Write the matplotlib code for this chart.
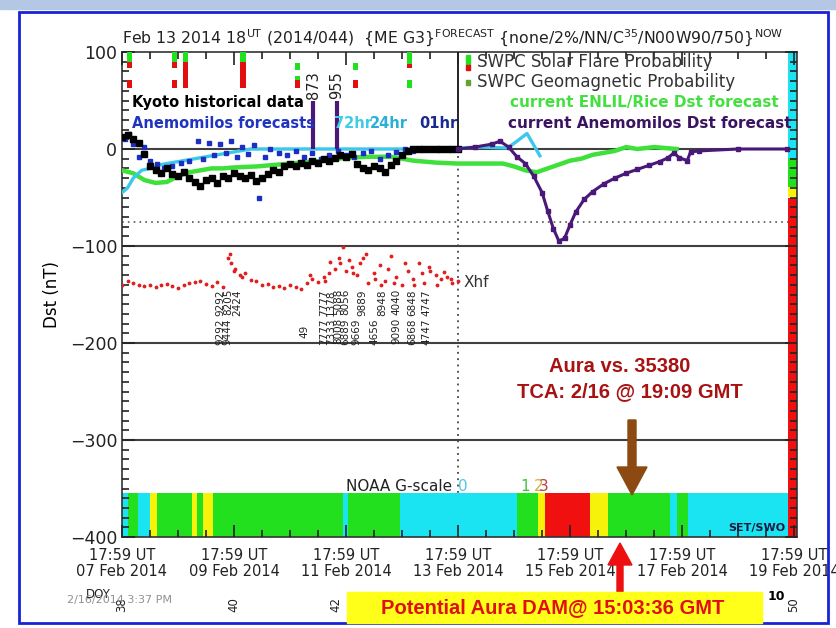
import numpy as np
import matplotlib.pyplot as plt
from matplotlib.patches import Rectangle, FancyArrow

W, H = 837, 628

# time axis: days since 07 Feb 2014 17:59 UT
tick_days = [0, 2, 4, 6, 8, 10, 12]
tick_labels = ["17:59 UT\n07 Feb 2014", "17:59 UT\n09 Feb 2014", "17:59 UT\n11 Feb 2014",
               "17:59 UT\n13 Feb 2014", "17:59 UT\n15 Feb 2014", "17:59 UT\n17 Feb 2014",
               "17:59 UT\n19 Feb 2014"]
doy_labels = ["38", "40", "42", "44", "46", "48", "50"]
y_ticks = [100, 0, -100, -200, -300, -400]

# Kyoto historical Dst (black)
kyoto_day = np.arange(0, 6.01, 0.1)
kyoto_dst = [12, 14, 10, 6, -5, -18, -22, -25, -20, -26,
             -28, -24, -30, -34, -38, -32, -30, -35, -28, -30,
             -25, -28, -30, -27, -33, -30, -26, -22, -24, -18,
             -15, -18, -14, -16, -12, -14, -10, -12, -9, -6,
             -8, -5, -15, -20, -22, -18, -20, -24, -16, -12,
             -6, -2, 0, 0, 0, 0, 0, 0, 0, 0, 0]

# Anemomilos forecasts (blue dots)
anem_day = [0.05, 0.12, 0.2, 0.3, 0.4, 0.5, 0.62, 0.75, 0.9, 1.05,
            1.2, 1.35, 1.45, 1.55, 1.65, 1.75, 1.85, 1.95, 2.05, 2.15,
            2.25, 2.35, 2.45, 2.55, 2.65, 2.8, 2.95, 3.1, 3.25, 3.4,
            3.55, 3.7, 3.85, 4.0, 4.15, 4.3, 4.45, 4.6, 4.75, 4.9,
            5.05, 5.2, 5.4, 5.6, 5.8]
anem_dst = [10, 15, 5, -8, 2, -12, -15, -20, -18, -14,
            -12, 8, -10, 6, -6, 5, -4, 8, -8, 2,
            -5, 4, -50, -8, 0, -4, -6, -2, -8, -4,
            -10, -6, -2, -6, -8, -4, -2, -10, -6, -3,
            0, -2, 0, 0, 0]

# 72hr forecast (cyan)
cyan_day = [0.0, 0.1, 0.2, 0.35, 0.5, 0.7, 0.9, 1.1, 1.3, 1.5, 1.7, 1.9, 2.1, 2.3,
            2.6, 3.0, 3.5, 4.0, 4.5, 5.0, 5.5, 6.0, 6.4, 6.88, 7.05, 7.23, 7.34, 7.46]
cyan_dst = [-45, -40, -30, -22, -20, -16, -14, -12, -10, -8, -6, -4, -2, 0,
            0, 0, 0, 0, 0, 0, 0, 1, 2, 1, 8, 16, 5, -7]

# ENLIL/Rice forecast (green)
enlil_day = [0.0, 0.2, 0.4, 0.6, 0.8, 1.0, 1.2, 1.4, 1.6, 1.8, 2.0, 2.4, 2.8, 3.2,
             3.6, 4.0, 4.4, 4.8, 5.2, 5.6, 6.0, 6.4, 6.8, 7.0, 7.2, 7.4, 7.6, 7.8,
             8.0, 8.2, 8.4, 8.6, 8.8, 9.0, 9.2, 9.5, 9.9]
enlil_dst = [-22, -25, -32, -35, -34, -28, -24, -22, -20, -20, -19, -18, -16, -14,
             -12, -9, -8, -8, -12, -14, -15, -15, -15, -18, -22, -24, -20, -16,
             -12, -10, -6, -4, -2, 2, 0, 2, 0]

# current Anemomilos forecast (purple)
purple_day = [6.0, 6.3, 6.6, 6.75, 6.9, 7.05, 7.2, 7.35, 7.5, 7.6, 7.7, 7.8, 7.9,
              8.0, 8.1, 8.25, 8.4, 8.6, 8.8, 9.0, 9.2, 9.4, 9.6, 9.75, 9.85,
              9.95, 10.09, 10.15, 10.3, 11.0, 11.88]
purple_dst = [0, 2, 5, 8, 2, -8, -15, -28, -45, -64, -82, -95, -92,
              -78, -65, -52, -44, -36, -30, -25, -21, -17, -13, -9, -4,
              -9, -12, -3, -2, 0, 0]

# off-scale Anemomilos values
spike_day = [3.41, 3.84]
spike_top = [50, 50]
spike_label = ["873", "955"]

# Xhf (red dots)
xhf_day = np.arange(0, 6.01, 0.1)
xhf_dst = [-140, -136, -138, -140, -141, -140, -142, -140, -139, -141,
           -143, -140, -138, -137, -136, -139, -141, -137, -142, -112,
           -126, -130, -128, -135, -136, -140, -139, -142, -141, -143,
           -140, -142, -144, -138, -134, -137, -132, -128, -124, -118,
           -126, -122, -130, -112, -138, -128, -120, -136, -110, -132,
           -140, -126, -134, -118, -138, -126, -130, -134, -132, -138, -136]
xhf2_day = [1.92, 1.95, 2.02, 2.15, 3.35, 3.62, 3.72, 3.88, 3.95, 4.05, 4.12, 4.25,
            4.35, 4.52, 4.62, 4.75, 4.85, 5.05, 5.22, 5.35, 5.48, 5.62, 5.75, 5.88]
xhf2_dst = [-108, -118, -124, -132, -130, -136, -116, -112, -101, -114, -128, -118,
            -108, -134, -140, -124, -138, -118, -140, -128, -122, -140, -127, -134]

# rotated station numbers under Xhf
num_day_a = [1.75, 1.89, 2.05, 3.6, 3.73, 3.86, 3.99, 4.3, 4.65, 4.9, 5.18, 5.43]
num_txt_a = ["9292", "8205", "2424", "7777", "1378", "5088", "8056", "9889", "8948", "4040", "6848", "4747"]
num_day_b = [1.75, 1.89, 3.25, 3.6, 3.73, 3.86, 3.99, 4.18, 4.5, 4.9, 5.18, 5.43]
num_txt_b = ["9292", "9444", "49", "7777", "7333", "8008", "6889", "9669", "4656", "9090", "6868", "4747"]

# SWPC probability bars
swpc_day = [0.14, 0.93, 1.14, 2.16, 3.14, 4.16, 5.14]
flare_g = [(100, 90), (100, 90), (100, 90), (100, 90), (89, 81), (89, 81), (100, 88)]
flare_r = [(90, 84), (90, 84), (90, 72), (90, 72), (81, 81), (81, 81), (88, 84)]
geo_g = [(71, 71), (71, 71), (71, 71), (71, 71), (75, 71), (71, 71), (71, 63)]
geo_r = [(71, 63), (71, 63), (72, 63), (72, 63), (71, 63), (71, 63), (63, 63)]

# NOAA G-scale strip
g_edges = [0, 0.11, 0.29, 0.5, 0.62, 1.25, 1.34, 1.45, 1.62, 3.95, 4.04, 4.96,
           7.05, 7.43, 7.55, 8.36, 8.68, 9.79, 9.91, 10.11, 11.89]
g_level = [0, 1, 0, 2, 1, 2, 1, 2, 1, 0, 1, 0, 1, 2, 3, 2, 1, 0, 1, 0]
g_colors = ["#1ae4f2", "#22e01e", "#f6f20a", "#f01010"]

# Dst colour strip at the right edge
strip_edges = [100, -9, -39, -50, -400]
strip_colors = ["#1ae4f2", "#22e01e", "#f6f20a", "#f01010"]


fig = plt.figure(figsize=(W / 100, H / 100), dpi=100)
px = fig.dpi_scale_trans


def fp(x, y):
    return x / W, 1 - y / H


# slide frame
fig.patches.append(Rectangle((0, 6.19), 8.37, 0.09, transform=px, color="#b4c8e6", zorder=0))
fig.patches.append(Rectangle((0.19, 0.05), 8.09, 6.11, transform=px, fill=False,
                             edgecolor="#1a22d8", lw=2, zorder=0))

ax = fig.add_axes([122 / W, 1 - 537 / H, 675 / W, 485 / H])
ax.set_xlim(0, 12.05)
ax.set_ylim(-400, 100)
ax.set_axisbelow(False)

for yv in [0, -100, -200, -300]:
    ax.axhline(yv, color="#404040", lw=1.5, zorder=1)
ax.axhline(-75, color="#555555", lw=1.2, ls=(0, (1, 2.5)), zorder=1)
ax.plot([6, 6], [0, 100], color="black", lw=1.2, zorder=1)
ax.plot([6, 6], [-400, 0], color="#444444", lw=1.3, ls=(0, (1, 2.5)), zorder=1)

# SWPC bars
for d, g, r, gg, gr in zip(swpc_day, flare_g, flare_r, geo_g, geo_r):
    ax.bar(d, g[0] - g[1], bottom=g[1], width=0.09, color="#22e01e", zorder=3)
    ax.bar(d, r[0] - r[1], bottom=r[1], width=0.09, color="#e01010", zorder=3)
    ax.bar(d, gg[0] - gg[1], bottom=gg[1], width=0.09, color="#22e01e", zorder=3)
    ax.bar(d, gr[0] - gr[1], bottom=gr[1], width=0.09, color="#e01010", zorder=3)

# G-scale strip
for i, lev in enumerate(g_level):
    ax.bar(g_edges[i], 45, bottom=-400, width=g_edges[i + 1] - g_edges[i], align="edge",
           color=g_colors[lev], zorder=1.5, lw=0)
for i, c in enumerate(strip_colors):
    ax.bar(11.89, strip_edges[i + 1] - strip_edges[i], bottom=strip_edges[i], width=0.16,
           align="edge", color=c, zorder=1.5, lw=0)

# series
ax.plot(enlil_day, enlil_dst, color="#3ee03a", lw=3.2, zorder=4)
ax.plot(cyan_day, cyan_dst, color="#3cc8ea", lw=2.4, zorder=4)
ax.plot(anem_day, anem_dst, "s", color="#1c2fc4", ms=3.2, zorder=5)
ax.plot(kyoto_day, kyoto_dst, "s", color="black", ms=4.2, zorder=6)
ax.plot(purple_day, purple_dst, "-s", color="#4a1878", lw=2.2, ms=3, zorder=6)
ax.vlines(spike_day, 0, spike_top, color="#4a1878", lw=3, zorder=6)
for d, t in zip(spike_day, spike_label):
    ax.text(d, 66, t, rotation=90, ha="center", va="center", fontsize=10.5, color="#222222")
ax.plot(xhf_day, xhf_dst, ".", color="#e02020", ms=3.5, zorder=4)
ax.plot(xhf2_day, xhf2_dst, ".", color="#e02020", ms=3.5, zorder=4)
ax.text(6.09, -138, "Xhf", fontsize=11, color="#333333", va="center")
for d, t in zip(num_day_a, num_txt_a):
    ax.text(d, -158, t, rotation=90, ha="center", va="center", fontsize=7.5, color="#222222")
for d, t in zip(num_day_b, num_txt_b):
    ax.text(d, -188, t, rotation=90, ha="center", va="center", fontsize=7.5, color="#222222")

# G-scale labels
ax.text(5.9, -348, "NOAA G-scale", ha="right", va="center", fontsize=11, color="#222222")
ax.text(6.08, -348, "0", ha="center", va="center", fontsize=11, color="#4cc8e0")
ax.text(7.2, -348, "1", ha="center", va="center", fontsize=11, color="#44c044")
ax.text(7.44, -348, "2", ha="center", va="center", fontsize=11, color="#d0b040")
ax.text(7.53, -348, "3", ha="center", va="center", fontsize=11, color="#c04040")
ax.text(11.34, -391, "SET/SWO", ha="center", va="center", fontsize=8, fontweight="bold",
        color="#1a1a40")

# axes styling
ax.set_xticks(tick_days)
ax.set_xticklabels(tick_labels, fontsize=10.5, linespacing=1.1)
ax.set_xticks(np.arange(0, 12.01, 0.5), minor=True)
ax.set_yticks(y_ticks)
ax.set_yticklabels([str(v).replace("-", "\u2212") for v in y_ticks], fontsize=12.5)
ax.set_yticks(np.arange(-400, 101, 10), minor=True)
ax.tick_params(which="both", direction="in", top=True, right=True, colors="#222222")
ax.tick_params(which="major", length=9, width=1.2)
ax.tick_params(which="minor", length=5, width=1.2)
ax.tick_params(axis="x", pad=8)
for s in ax.spines.values():
    s.set_color("#333333")
    s.set_linewidth(1.2)
ax.set_ylabel("Dst (nT)", fontsize=12, labelpad=6)

# title and legends
fig.text(*fp(122, 38),
         r"Feb 13 2014 18$^{\rm UT}$ (2014/044)  {ME G3}$^{\rm FORECAST}$ "
         r"{none/2%/NN/C$^{35}$/N00W90/750}$^{\rm NOW}$",
         fontsize=11.3, va="center", color="#222222")
fig.text(*fp(132, 103), "Kyoto historical data", fontsize=10.5, fontweight="bold", va="center")
fig.text(*fp(132, 123), "Anemomilos forecasts", fontsize=10.5, fontweight="bold",
         va="center", color="#2034c0")
fig.text(*fp(334, 123), "72hr", fontsize=10.5, fontweight="bold", va="center", color="#40cce4")
fig.text(*fp(370, 123), "24hr", fontsize=10.5, fontweight="bold", va="center", color="#2ab0d8")
fig.text(*fp(419, 123), "01hr", fontsize=10.5, fontweight="bold", va="center", color="#1a2a90")
fig.patches.append(Rectangle((4.655, 5.63), 0.045, 0.1, transform=px, color="#22e01e"))
fig.patches.append(Rectangle((4.655, 5.58), 0.045, 0.05, transform=px, color="#e01010"))
fig.patches.append(Rectangle((4.655, 5.43), 0.045, 0.05, transform=px, color="#6aa030"))
fig.text(*fp(477, 62), "SWPC Solar Flare Probability", fontsize=12, va="center", color="#333333")
fig.text(*fp(477, 82), "SWPC Geomagnetic Probability", fontsize=12, va="center", color="#333333")
fig.text(*fp(510, 103), "current ENLIL/Rice Dst forecast", fontsize=11, fontweight="bold",
         va="center", color="#44e040")
fig.text(*fp(508, 124), "current Anemomilos Dst forecast", fontsize=11, fontweight="bold",
         va="center", color="#3a1460")

# DOY row (the middle ones sit under the yellow box in the slide)
box_left, box_right = 347, 762
fig.text(*fp(98, 595), "DOY", fontsize=8.5, va="center", ha="center", color="#222222")
for d, t in zip(tick_days, doy_labels):
    xp = 122 + d * 56
    if box_left + 4 < xp < box_right:
        continue
    fig.text(*fp(min(xp, 336) if xp < 400 else xp, 605), t, rotation=90, fontsize=8.5,
             va="center", ha="center", color="#222222")
fig.text(*fp(120, 600), "2/16/2014 3:37 PM", fontsize=8, va="center", ha="center",
         color="#909090")

# slide annotations
bold = dict(family="Liberation Sans", fontweight="bold")
fig.text(*fp(620, 367), "Aura vs. 35380", fontsize=14.5, ha="center", va="center",
         color="#a81212", **bold)
fig.text(*fp(630, 392), "TCA: 2/16 @ 19:09 GMT", fontsize=14.5, ha="center", va="center",
         color="#a81212", **bold)
fig.patches.append(FancyArrow(6.32, 6.28 - 4.20, 0, -0.75, width=0.08, head_width=0.3,
                              head_length=0.28, length_includes_head=True,
                              transform=px, color="#8c4a12"))
fig.patches.append(FancyArrow(6.20, 6.28 - 5.92, 0, 0.49, width=0.06, head_width=0.24,
                              head_length=0.22, length_includes_head=True,
                              transform=px, color="#ee1010"))
fig.patches.append(Rectangle((box_left / 100, 0.05), (box_right - box_left) / 100, 0.31,
                             transform=px, color="#ffff1a", zorder=5))
fig.text(*fp(553, 608), "Potential Aura DAM@ 15:03:36 GMT", fontsize=14.5, ha="center",
         va="center", color="#e01010", zorder=6, **bold)
fig.text(*fp(776, 597), "10", fontsize=9, fontweight="bold", ha="center", va="center")

fig.savefig("out.png", dpi=100)
